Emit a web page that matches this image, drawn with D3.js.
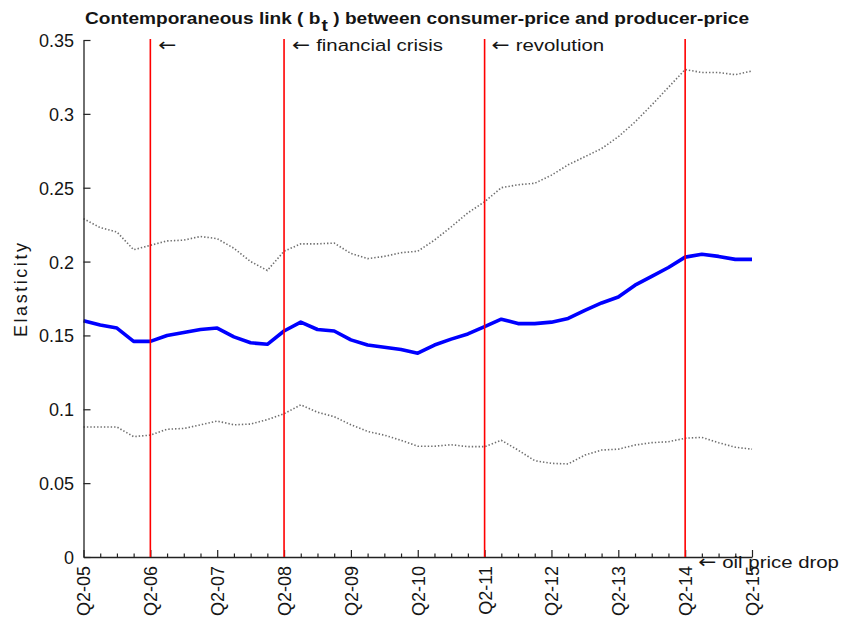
<!DOCTYPE html>
<html>
<head>
<meta charset="utf-8">
<script src="https://cdn.jsdelivr.net/npm/d3@7"></script>
<style>
  body { margin: 0; background: #fff; }
  svg { display: block; }
  text { font-family: "Liberation Sans", Arial, Helvetica, sans-serif; fill: #151515; }
  .arrow { font-family: "DejaVu Sans", sans-serif; }
</style>
</head>
<body>
<svg id="chart" width="845" height="626"></svg>
<script>
// Year labels for the major ticks (one per year, quarterly data in between)
const yearLabels = ["Q2-05", "Q2-06", "Q2-07", "Q2-08", "Q2-09", "Q2-10",
                    "Q2-11", "Q2-12", "Q2-13", "Q2-14", "Q2-15"];

// Time-varying elasticity b_t, quarterly from Q2-05 to Q2-15
const elasticity = [0.160, 0.157, 0.155, 0.146, 0.146, 0.150, 0.152, 0.154, 0.155, 0.149,
                    0.145, 0.144, 0.153, 0.159, 0.154, 0.153, 0.147, 0.1435, 0.142, 0.1405,
                    0.138, 0.1435, 0.1475, 0.151, 0.156, 0.161, 0.158, 0.158, 0.159, 0.1615,
                    0.167, 0.172, 0.176, 0.184, 0.190, 0.196, 0.203, 0.205, 0.2035, 0.2015,
                    0.2015];

// Upper and lower confidence bands
const upperBand = [0.229, 0.223, 0.220, 0.208, 0.211, 0.214, 0.2145, 0.217, 0.2155, 0.209,
                   0.200, 0.194, 0.207, 0.212, 0.212, 0.2125, 0.2055, 0.202, 0.2035, 0.206,
                   0.207, 0.2145, 0.2235, 0.233, 0.2405, 0.250, 0.252, 0.253, 0.2585, 0.2655,
                   0.271, 0.2765, 0.2845, 0.2945, 0.306, 0.318, 0.330, 0.328, 0.328, 0.3265,
                   0.329];
const lowerBand = [0.088, 0.088, 0.088, 0.0815, 0.0825, 0.0865, 0.087, 0.0895, 0.092, 0.0895,
                   0.090, 0.093, 0.097, 0.103, 0.098, 0.095, 0.0895, 0.085, 0.0825, 0.079,
                   0.075, 0.075, 0.076, 0.0747, 0.0747, 0.079, 0.0724, 0.0652, 0.0634, 0.063,
                   0.069, 0.0724, 0.073, 0.0758, 0.0774, 0.078, 0.0804, 0.081, 0.0774, 0.0743,
                   0.073];

const yTicks = [0, 0.05, 0.1, 0.15, 0.2, 0.25, 0.3, 0.35];

// Events marked with vertical lines
const eventPeriods = ["Q2-06", "Q2-08", "Q2-11", "Q2-14"];
const eventLabels  = ["", "financial crisis", "revolution", "oil price drop"];

const svg = d3.select("#chart");
const margin = { left: 83.5, right: 93, top: 40, bottom: 69 };
const W = 845, H = 626;
const nQ = elasticity.length;

const x = d3.scaleLinear().domain([0, nQ - 1]).range([margin.left, W - margin.right]);
const y = d3.scaleLinear().domain([0, 0.35]).range([H - margin.bottom, margin.top]);

const stretch = 1.2;  // horizontal glyph widening of the annotation text

// Confidence bands (dotted) and the estimate (thick blue)
const line = d3.line().x((d, i) => x(i)).y(d => y(d));

[upperBand, lowerBand].forEach(band => {
  svg.append("path")
    .datum(band)
    .attr("d", line)
    .attr("fill", "none")
    .attr("stroke", "#555")
    .attr("stroke-opacity", 0.85)
    .attr("stroke-width", 1.6)
    .attr("stroke-dasharray", "1.4,2");
});

svg.append("path")
  .datum(elasticity)
  .attr("d", line)
  .attr("fill", "none")
  .attr("stroke", "#0000ff")
  .attr("stroke-width", 3.6)
  .attr("stroke-linejoin", "round");

// Axes
const yAxis = d3.axisLeft(y)
  .tickValues(yTicks)
  .tickFormat(d => String(d))
  .tickSize(-7)
  .tickSizeOuter(0)
  .tickPadding(9.5);

const gy = svg.append("g")
  .attr("transform", `translate(${margin.left},0)`)
  .call(yAxis);

const majorQ = yearLabels.map((d, i) => i * 4);
const minorQ = d3.range(nQ).filter(q => q % 4 !== 0);

const gxMinor = svg.append("g")
  .attr("transform", `translate(0,${y(0)})`)
  .call(d3.axisBottom(x).tickValues(minorQ).tickSize(-3.5).tickSizeOuter(0).tickFormat(""));
gxMinor.select(".domain").remove();

const gx = svg.append("g")
  .attr("transform", `translate(0,${y(0)})`)
  .call(d3.axisBottom(x)
    .tickValues(majorQ)
    .tickFormat((d, i) => yearLabels[i])
    .tickSize(-7)
    .tickSizeOuter(0));

gx.selectAll(".tick text")
  .attr("transform", "rotate(-90)")
  .attr("x", -9)
  .attr("y", 0)
  .attr("dy", "0.36em")
  .attr("text-anchor", "end")
  .style("font-size", "18px");

gy.selectAll(".tick text")
  .style("font-size", "18px")
  .attr("dy", "0.36em");

[gx, gy, gxMinor].forEach(g => {
  g.selectAll(".domain").attr("stroke", "#222").attr("stroke-width", 1.3);
  g.selectAll(".tick line").attr("stroke", "#222").attr("stroke-width", 1.2);
});

// Event lines and labels
eventPeriods.forEach((p, i) => {
  const q = yearLabels.indexOf(p) * 4;
  svg.append("line")
    .attr("x1", x(q)).attr("x2", x(q))
    .attr("y1", y(0.35) - 1).attr("y2", y(0))
    .attr("stroke", "#ff0000")
    .attr("stroke-width", 1.6);
});

const labelOffsets = [
  { dx: 8, y: 51 },
  { dx: 8, y: 51 },
  { dx: 7, y: 51 },
  { dx: 13, y: 568 }
];
eventLabels.forEach((lbl, i) => {
  const q = yearLabels.indexOf(eventPeriods[i]) * 4;
  const t = svg.append("text")
    .attr("transform", `translate(${x(q) + labelOffsets[i].dx},${labelOffsets[i].y}) scale(${stretch},1)`)
    .style("font-size", "17px");
  t.append("tspan").attr("class", "arrow").style("font-size", "18px").text("\u2190");
  if (lbl) t.append("tspan").attr("dx", 5).text(lbl);
});

// Y axis title
svg.append("text")
  .attr("transform", "translate(27,290) rotate(-90)")
  .attr("text-anchor", "middle")
  .attr("textLength", 94)
  .attr("lengthAdjust", "spacing")
  .style("font-size", "18px")
  .text("Elasticity");

// Chart title with subscript t
const title = svg.append("text")
  .attr("x", 85)
  .attr("y", 24)
  .attr("textLength", 664)
  .attr("lengthAdjust", "spacingAndGlyphs")
  .style("font-size", "17px")
  .style("font-weight", "bold");
title.append("tspan").text("Contemporaneous link ( b");
title.append("tspan").attr("dy", 7).attr("dx", 1).text("t");
title.append("tspan").attr("dy", -7).text(" ) between consumer-price and producer-price");
</script>
</body>
</html>
